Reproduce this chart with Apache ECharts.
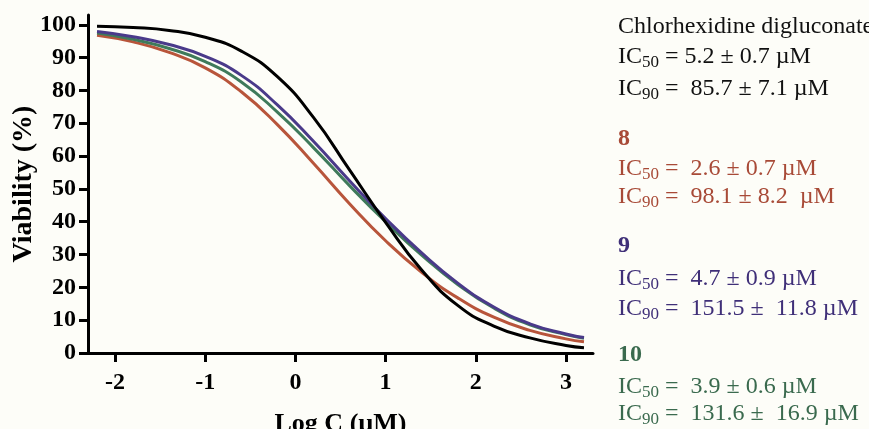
<!DOCTYPE html>
<html>
<head>
<meta charset="utf-8">
<script src="https://cdn.jsdelivr.net/npm/echarts@6/dist/echarts.min.js"></script>
<style>
  html, body { margin: 0; padding: 0; background: #fdfdf8; }
  #chart { width: 869px; height: 429px; }
</style>
</head>
<body>
<div id="chart"></div>
<script>
// Log C (uM) sample positions
var logC = [-2.2, -1.8, -1.4, -1.0, -0.6, -0.2, 0.2, 0.6, 1.0, 1.4, 1.8, 2.2, 2.6, 3.0, 3.2];

// viability (%) read at each logC
var chlorhexidine = [99.6, 99.2, 98.3, 96.2, 92.0, 84.2, 71.8, 55.8, 39.8, 25.3, 14.5, 8.2, 4.6, 2.3, 1.6];
var cpd8  = [96.8, 94.8, 91.6, 86.9, 79.6, 69.6, 57.8, 45.5, 34.2, 24.6, 16.8, 10.9, 6.9, 4.3, 3.4];
var cpd9  = [98.0, 96.4, 94.0, 90.4, 84.6, 75.6, 64.5, 52.5, 41.0, 30.5, 21.3, 14.0, 8.9, 5.8, 4.7];
var cpd10 = [97.5, 95.6, 92.8, 88.8, 82.6, 73.4, 62.6, 51.0, 40.0, 29.8, 20.9, 13.7, 8.6, 5.6, 4.5];

var xTicks = [-2, -1, 0, 1, 2, 3];
var yTicks = [0, 10, 20, 30, 40, 50, 60, 70, 80, 90, 100];

// legend block on the right
var legendBlocks = [
    { title: 'Chlorhexidine digluconate', bold: false, ic50: ' = 5.2 \u00b1 0.7 \u00b5M', ic90: ' =  85.7 \u00b1 7.1 \u00b5M', color: '#111111' },
    { title: '8', bold: true, ic50: ' =  2.6 \u00b1 0.7 \u00b5M', ic90: ' =  98.1 \u00b1 8.2  \u00b5M', color: '#a84a37' },
    { title: '9', bold: true, ic50: ' =  4.7 \u00b1 0.9 \u00b5M', ic90: ' =  151.5 \u00b1  11.8 \u00b5M', color: '#3f2f78' },
    { title: '10', bold: true, ic50: ' =  3.9 \u00b1 0.6 \u00b5M', ic90: ' =  131.6 \u00b1  16.9 \u00b5M', color: '#3a6a4e' }
];
// vertical centres of title / IC50 / IC90 lines of each block
var blockLines = [[25, 54, 86], [137, 166, 194], [244, 276, 306], [353, 384, 411]];

var serif = '"Liberation Serif", "DejaVu Serif", serif';

function pairs(ys) {
    return logC.map(function (x, i) { return [x, ys[i]]; });
}

function curve(name, ys, color) {
    return {
        name: name,
        type: 'line',
        smooth: 0.5,
        showSymbol: false,
        silent: true,
        lineStyle: { color: color, width: 3 },
        data: pairs(ys)
    };
}

var graphics = [];
legendBlocks.forEach(function (b, i) {
    var ys = blockLines[i];
    graphics.push({
        type: 'text', left: 618, top: ys[0] - 10,
        style: {
            text: b.title, fill: b.color, font: (b.bold ? 'bold ' : '') + '24px ' + serif
        }
    });
    [['50', b.ic50, ys[1]], ['90', b.ic90, ys[2]]].forEach(function (row) {
        graphics.push({
            type: 'text', left: 618, top: row[2] - 15,
            style: {
                text: '{m|IC}{s|' + row[0] + '}{m|' + row[1] + '}',
                rich: {
                    m: { fontFamily: serif, fontSize: 24, fill: b.color, color: b.color, lineHeight: 26, verticalAlign: 'top' },
                    s: { fontFamily: serif, fontSize: 17, fill: b.color, color: b.color, lineHeight: 16, padding: [15, 0, 0, 0], verticalAlign: 'bottom' }
                }
            }
        });
    });
});

var chart = echarts.init(document.getElementById('chart'));
chart.setOption({
    backgroundColor: '#fdfdf8',
    animation: false,
    grid: { left: 88, right: 276, top: 15, bottom: 76, outerBoundsMode: 'none' },
    xAxis: {
        type: 'value', min: -2.3, max: 3.3,
        name: 'Log C (\u00b5M)', nameLocation: 'middle', nameGap: 58, nameMoveOverlap: false,
        nameTextStyle: { fontFamily: serif, fontWeight: 'bold', fontSize: 26, color: '#000' },
        axisLine: { onZero: false, lineStyle: { color: '#000', width: 3 } },
        axisTick: { customValues: xTicks, length: 9, lineStyle: { color: '#000', width: 3 } },
        axisLabel: { customValues: xTicks, fontFamily: serif, fontWeight: 'bold', fontSize: 24, color: '#000', margin: 18 },
        splitLine: { show: false }
    },
    yAxis: {
        type: 'value', min: 0, max: 103,
        name: 'Viability (%)', nameLocation: 'middle', nameGap: 50, nameMoveOverlap: false,
        nameTextStyle: { fontFamily: serif, fontWeight: 'bold', fontSize: 28, color: '#000' },
        axisLine: { show: true, onZero: false, lineStyle: { color: '#000', width: 3 } },
        axisTick: { show: true, customValues: yTicks, length: 9, lineStyle: { color: '#000', width: 3 } },
        axisLabel: { customValues: yTicks, fontFamily: serif, fontWeight: 'bold', fontSize: 24, color: '#000', margin: 12 },
        splitLine: { show: false }
    },
    series: [
        curve('8', cpd8, '#b8553b'),
        curve('10', cpd10, '#3f7a5b'),
        curve('9', cpd9, '#4a3a8a'),
        curve('Chlorhexidine digluconate', chlorhexidine, '#000000')
    ],
    graphic: graphics
});
</script>
</body>
</html>
